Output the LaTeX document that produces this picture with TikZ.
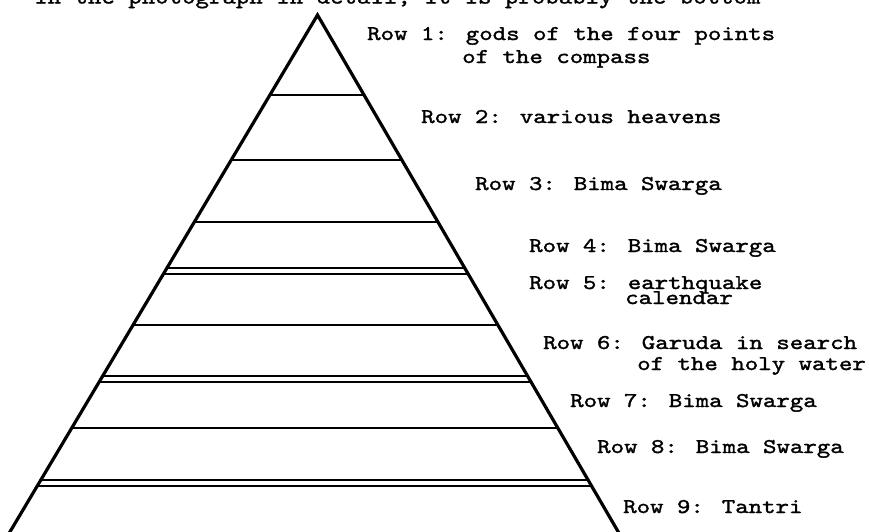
\documentclass[tikz,border=0pt]{standalone}
\usepackage{fontspec}
\newfontfamily\tw{lmmono10-regular.otf}[FakeStretch=1.22,FakeBold=1.5]
\usetikzlibrary{calc}
\begin{document}
\begin{tikzpicture}[x=1pt,y=-1pt,
  edge/.style={line width=3.2pt, line join=miter},
  tier/.style={line width=2.7pt},
  dtier/.style={line width=2.2pt},
  lbl/.style={font=\tw\fontsize{21}{23}\selectfont, anchor=base west, inner sep=0pt}]
\useasboundingbox (0,0) rectangle (869,531);
\clip (0,0) rectangle (869,531);
% pyramid outline
\coordinate (A) at (317.5,15);
\coordinate (L) at (5.1,540);
\coordinate (R) at (623,540);
\draw[edge] (L) -- (A) -- (R);
% single tier lines
\foreach \y in {95,160,222,325,428} {
  \draw[tier] ($(A)!{(\y-15)/525}!(L)$) -- ($(A)!{(\y-15)/525}!(R)$);
}
% double tier lines
\foreach \y in {268,274,376,382,480,486} {
  \draw[dtier] ($(A)!{(\y-15)/525}!(L)$) -- ($(A)!{(\y-15)/525}!(R)$);
}
% cut-off running text at the top
\node[lbl] (top) at (34,3.5) {in the photograph in detail, it is probably the bottom};
% labels
\node[lbl] (r1)  at (367,40)  {Row 1: gods of the four points};
\node[lbl] (r1b) at (462,63)  {of the compass};
\node[lbl] (r2)  at (421,123) {Row 2: various heavens};
\node[lbl] (r3)  at (475,190) {Row 3: Bima Swarga};
\node[lbl] (r4)  at (529,252) {Row 4: Bima Swarga};
\node[lbl] (r5)  at (529,289) {Row 5: earthquake};
\node[lbl] (r5b) at (625,304) {calendar};
\node[lbl] (r6)  at (543,349) {Row 6: Garuda in search};
\node[lbl] (r6b) at (637,370) {of the holy water};
\node[lbl] (r7)  at (570,407) {Row 7: Bima Swarga};
\node[lbl] (r8)  at (597,453) {Row 8: Bima Swarga};
\node[lbl] (r9)  at (623,513) {Row 9: Tantri};
\end{tikzpicture}
\end{document}
